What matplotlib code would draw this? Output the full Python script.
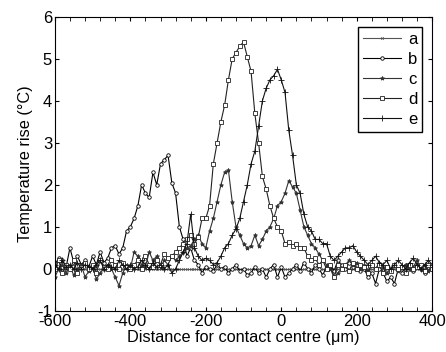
import matplotlib
matplotlib.use('Agg')
from matplotlib import pyplot as plt
import numpy as np

plt.rcParams['font.family'] = ['Liberation Sans', 'DejaVu Sans']
plt.rcParams['axes.unicode_minus'] = False

# distance from contact centre (um), 10 um steps from -600 to 400
distance = np.arange(-600, 401, 10)

series_a = [
    0.0, 0.0, 0.0, 0.0, 0.0, 0.0, 0.0, 0.0, 0.0, 0.0,
    0.0, 0.0, 0.0, 0.0, 0.0, 0.0, 0.0, 0.0, 0.0, 0.0,
    0.0, 0.0, 0.0, 0.0, 0.0, 0.0, 0.0, 0.0, 0.0, 0.0,
    0.0, 0.0, 0.0, 0.0, 0.0, 0.0, 0.0, 0.0, 0.0, 0.0,
    0.0, 0.0, 0.0, 0.0, 0.0, 0.0, 0.0, 0.0, 0.0, 0.0,
    0.0, 0.0, 0.0, 0.0, 0.0, 0.0, 0.0, 0.0, 0.0, 0.0,
    0.0, 0.0, 0.0, 0.0, 0.0, 0.0, 0.0, 0.0, 0.0, 0.0,
    0.0, 0.0, 0.0, 0.0, 0.0, 0.0, 0.0, 0.0, 0.0, 0.0,
    0.0, 0.0, 0.0, 0.0, 0.0, 0.0, 0.0, 0.0, 0.0, 0.0,
    0.0, 0.0, 0.0, 0.0, 0.0, 0.0, 0.0, 0.0, 0.0, 0.0,
    0.0,
]

series_b = [
    0.1, 0.25, 0.2, 0.05, 0.5, 0.15, 0.3, 0.1, 0.2, 0.05,
    0.3, 0.1, 0.4, 0.15, 0.25, 0.5, 0.55, 0.35, 0.5, 0.9,
    1.0, 1.2, 1.5, 2.0, 1.8, 1.7, 2.3, 2.0, 2.5, 2.6,
    2.7, 2.05, 1.8, 1.0, 0.7, 0.3, 0.5, 0.2, 0.1, -0.1,
    0.05, 0.0, -0.05, 0.1, 0.0, 0.05, -0.1, 0.0, 0.1, -0.05,
    0.0, -0.15, -0.1, 0.05, -0.1, 0.0, -0.2, 0.0, 0.1, -0.2,
    0.05, -0.2, -0.1, 0.0, 0.1, -0.05, 0.15, 0.0, -0.1, 0.1,
    0.0, -0.15, 0.05, 0.1, -0.05, 0.2, 0.1, 0.0, 0.15, 0.05,
    0.1, -0.05, 0.0, -0.2, -0.1, -0.35, 0.0, -0.1, -0.3, -0.2,
    -0.35, 0.0, -0.1, 0.1, 0.0, -0.05, 0.1, 0.0, -0.1, 0.05,
    0.0,
]

series_c = [
    -0.2, 0.0, 0.1, -0.1, 0.05, -0.15, 0.0, 0.1, -0.2, -0.05,
    0.05, -0.25, -0.1, 0.0, 0.1, 0.0, -0.2, -0.4, -0.1, 0.1,
    0.0, 0.4, 0.3, 0.1, 0.05, 0.4, 0.2, 0.3, 0.05, 0.2,
    0.1, 0.3, 0.2, 0.3, 0.4, 0.5, 0.55, 0.7, 0.8, 0.6,
    0.5, 0.9, 1.2, 1.6, 2.0, 2.3, 2.35, 1.6, 1.0, 0.8,
    0.6, 0.5, 0.55, 0.8, 0.55, 0.7, 0.9, 1.0, 1.2, 1.5,
    1.6, 1.8, 2.1, 1.95, 1.8, 1.4, 1.0, 0.8, 0.6, 0.5,
    0.35, 0.2, 0.1, 0.0, -0.2, -0.1, 0.0, 0.1, 0.2, 0.1,
    0.15, 0.0, 0.1, -0.05, 0.1, 0.0, 0.15, 0.05, -0.1, 0.0,
    0.1, -0.05, 0.05, 0.1, 0.0, 0.05, 0.2, 0.0, 0.1, -0.05,
    0.0,
]

series_d = [
    0.0, 0.2, -0.1, 0.1, 0.0, 0.2, -0.1, 0.05, 0.15, 0.0,
    0.1, -0.1, 0.2, 0.05, 0.0, 0.2, 0.1, 0.0, 0.15, 0.05,
    0.0, 0.1, 0.2, 0.0, 0.3, 0.1, 0.05, 0.2, 0.1, 0.35,
    0.25, 0.3, 0.4, 0.5, 0.6, 0.7, 0.8, 0.6, 0.75, 1.2,
    1.2, 1.5, 2.5, 3.0, 3.5, 3.9, 4.5, 5.0, 5.15, 5.3,
    5.4, 5.05, 4.7, 3.7, 3.0, 2.2, 1.9, 1.5, 1.2, 1.0,
    0.9, 0.6, 0.65, 0.55, 0.6, 0.5, 0.5, 0.3, 0.2, 0.25,
    0.1, 0.2, 0.0, 0.1, -0.2, 0.1, 0.0, 0.1, -0.05, 0.15,
    0.0, 0.1, 0.05, -0.1, 0.1, 0.0, 0.1, -0.1, 0.05, -0.05,
    0.1, 0.0, 0.05, -0.1, 0.1, 0.0, 0.05, 0.1, -0.05, 0.1,
    0.0,
]

series_e = [
    0.1, 0.0, 0.2, 0.05, 0.1, 0.0, 0.15, 0.0, 0.1, 0.05,
    0.0, 0.1, 0.2, 0.0, 0.1, 0.05, 0.0, 0.2, 0.1, 0.0,
    0.1, 0.0, 0.05, 0.2, 0.1, 0.0, 0.15, 0.05, 0.1, 0.0,
    0.1, -0.1, 0.0, 0.2, 0.4, 0.6, 1.3, 0.5, 0.3, 0.2,
    0.25, 0.2, 0.1, 0.15, 0.3, 0.5, 0.6, 0.8, 0.95, 1.2,
    1.6, 2.0, 2.5, 2.8, 3.4, 4.0, 4.3, 4.5, 4.6, 4.75,
    4.5, 4.2, 3.3, 2.7, 2.0, 1.8, 1.3, 1.0, 0.9, 0.7,
    0.7, 0.6, 0.6, 0.3, 0.2, 0.3, 0.4, 0.5, 0.5, 0.55,
    0.4, 0.3, 0.2, 0.1, 0.2, 0.3, 0.15, 0.1, 0.2, 0.0,
    0.1, 0.2, 0.1, 0.0, 0.15, 0.25, 0.1, 0.0, 0.1, 0.2,
    0.1,
]

labels = ['a', 'b', 'c', 'd', 'e']

fig = plt.figure(figsize=(4.46, 3.52), dpi=100)
ax = fig.add_axes([0.123, 0.117, 0.846, 0.835])

ax.plot(distance, series_a, color='#555555', lw=0.8, marker='x', ms=2, mew=0.5, label=labels[0])
ax.plot(distance, series_b, color='black', lw=0.8, marker='o', ms=2.5, mfc='white', mew=0.6, label=labels[1])
ax.plot(distance, series_c, color='#333333', lw=0.8, marker='*', ms=3, mew=0.6, label=labels[2])
ax.plot(distance, series_d, color='#222222', lw=0.8, marker='s', ms=2.5, mfc='white', mew=0.6, label=labels[3])
ax.plot(distance, series_e, color='#111111', lw=0.8, marker='+', ms=4, mew=0.6, label=labels[4])

ax.set_xlim(-600, 400)
ax.set_ylim(-1, 6)
ax.set_xticks(np.arange(-600, 401, 200))
ax.set_xticks(np.arange(-600, 401, 40), minor=True)
ax.set_yticks(np.arange(-1, 7, 1))
ax.tick_params(which='both', direction='in', top=True, right=True, length=3, labelsize=12, pad=2)
ax.set_xlabel('Distance for contact centre (\u03bcm)', fontsize=11.7, labelpad=1)
ax.set_ylabel('Temperature rise (\u00b0C)', fontsize=11.7, labelpad=3)
ax.legend(loc='upper right', fontsize=12, handlelength=2.3, handletextpad=0.4,
          fancybox=False, edgecolor='black', framealpha=1, borderpad=0.3,
          labelspacing=0.3, borderaxespad=0.6)

fig.savefig('out.png', dpi=100)
